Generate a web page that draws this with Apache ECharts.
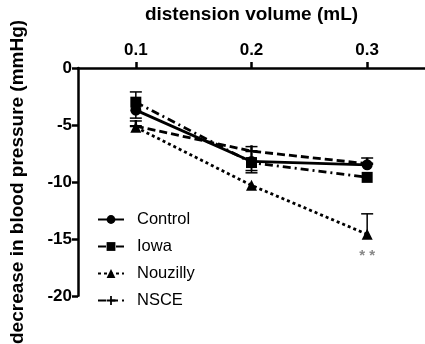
<!DOCTYPE html>
<html>
<head>
<meta charset="utf-8">
<script src="https://cdn.jsdelivr.net/npm/echarts@6/dist/echarts.min.js"></script>
<style>
  html, body { margin: 0; padding: 0; background: #fff; }
  #main { width: 425px; height: 344px; }
</style>
</head>
<body>
<div id="main"></div>
<script>
// distension volumes (mL)
var volumes = [0.1, 0.2, 0.3];
var xTicks = [0.1, 0.2, 0.3];

// mean decrease in blood pressure (mmHg)
var control = [-3.7, -8.2, -8.5];
var iowa = [-3.0, -8.3, -9.6];
var nouzilly = [-5.2, -10.3, -14.6];
var nsce = [-5.1, -7.3, -8.4];

// one-sided SEM bars (signed: + up, - down), 0 = none
var controlErr = [-0.7, -0.8, 0.6];
var iowaErr = [0.9, -0.9, 0];
var nouzillyErr = [0, 0, 1.8];
var nsceErr = [0.45, 0.4, 0];

var font = '"Liberation Sans", Arial, Helvetica, sans-serif';
var plus = 'path://M4,0H6V4H10V6H6V10H4V6H0V4H4Z';

function pairs(vals) {
  return volumes.map(function (v, i) { return [v, vals[i]]; });
}
function errData(vals, errs) {
  var out = [];
  volumes.forEach(function (v, i) {
    if (errs[i] !== 0) out.push([v, vals[i], vals[i] + errs[i]]);
  });
  return out;
}

function renderErr(params, api) {
  var p0 = api.coord([api.value(0), api.value(1)]);
  var p1 = api.coord([api.value(0), api.value(2)]);
  var w = 6;
  var st = { stroke: '#000', lineWidth: 1.5 };
  return {
    type: 'group',
    children: [
      { type: 'line', shape: { x1: p0[0], y1: p0[1], x2: p1[0], y2: p1[1] }, style: st },
      { type: 'line', shape: { x1: p1[0] - w, y1: p1[1], x2: p1[0] + w, y2: p1[1] }, style: st }
    ]
  };
}

function lineSeries(name, vals, symbol, dashType) {
  return {
    name: name,
    type: 'line',
    data: pairs(vals),
    symbol: symbol,
    symbolSize: symbol === plus ? 12 : 11,
    itemStyle: { color: '#000' },
    lineStyle: { color: '#000', width: 2.8, type: dashType },
    z: 3
  };
}

function errSeries(vals, errs) {
  return {
    type: 'custom',
    renderItem: renderErr,
    data: errData(vals, errs),
    encode: { x: 0, y: [1, 2] },
    z: 2,
    silent: true
  };
}

var chart = echarts.init(document.getElementById('main'));

var nouz = lineSeries('Nouzilly', nouzilly, 'triangle', [3, 3]);
nouz.markPoint = {
  symbol: 'circle',
  symbolSize: 0,
  data: [{ coord: [0.3, -14.6] }],
  label: {
    show: true,
    formatter: '* *',
    color: '#888',
    fontFamily: font,
    fontWeight: 'bold',
    fontSize: 15,
    offset: [0, 22]
  }
};

chart.setOption({
  animation: false,
  backgroundColor: '#fff',
  grid: { left: 74, top: 62, right: 0, bottom: 47 },
  legend: {
    orient: 'vertical',
    left: 92,
    top: 206,
    itemWidth: 26,
    itemHeight: 11,
    itemGap: 10,
    textStyle: { fontFamily: font, fontSize: 16.5, color: '#000', padding: [0, 0, 0, 8] },
    data: ['Control', 'Iowa', 'Nouzilly', 'NSCE']
  },
  xAxis: {
    type: 'value',
    position: 'top',
    min: 0.05,
    max: 0.35,
    name: 'distension volume (mL)',
    nameLocation: 'middle',
    nameGap: 44,
    nameTextStyle: { fontFamily: font, fontWeight: 'bold', fontSize: 19, color: '#000' },
    axisLine: { lineStyle: { color: '#000', width: 2.5 } },
    axisTick: { show: true, length: 6, lineStyle: { color: '#000', width: 2.5 }, customValues: xTicks },
    axisLabel: {
      customValues: xTicks,
      margin: 9,
      fontFamily: font,
      fontWeight: 'bold',
      fontSize: 17,
      color: '#000',
      formatter: function (v) { return v.toFixed(1); }
    },
    splitLine: { show: false }
  },
  yAxis: {
    type: 'value',
    min: -20,
    max: 0,
    interval: 5,
    name: 'decrease in blood pressure (mmHg)',
    nameLocation: 'middle',
    nameGap: 51,
    nameTextStyle: { fontFamily: font, fontWeight: 'bold', fontSize: 19, color: '#000' },
    axisLine: { show: true, lineStyle: { color: '#000', width: 2.5 } },
    axisTick: { show: true, length: 6, lineStyle: { color: '#000', width: 2.5 } },
    axisLabel: { margin: 6, fontFamily: font, fontWeight: 'bold', fontSize: 17, color: '#000' },
    splitLine: { show: false }
  },
  series: [
    lineSeries('Control', control, 'circle', 'solid'),
    lineSeries('Iowa', iowa, 'rect', [8, 4, 2, 4]),
    nouz,
    lineSeries('NSCE', nsce, plus, [8, 4]),
    errSeries(control, controlErr),
    errSeries(iowa, iowaErr),
    errSeries(nouzilly, nouzillyErr),
    errSeries(nsce, nsceErr)
  ]
});
</script>
</body>
</html>
